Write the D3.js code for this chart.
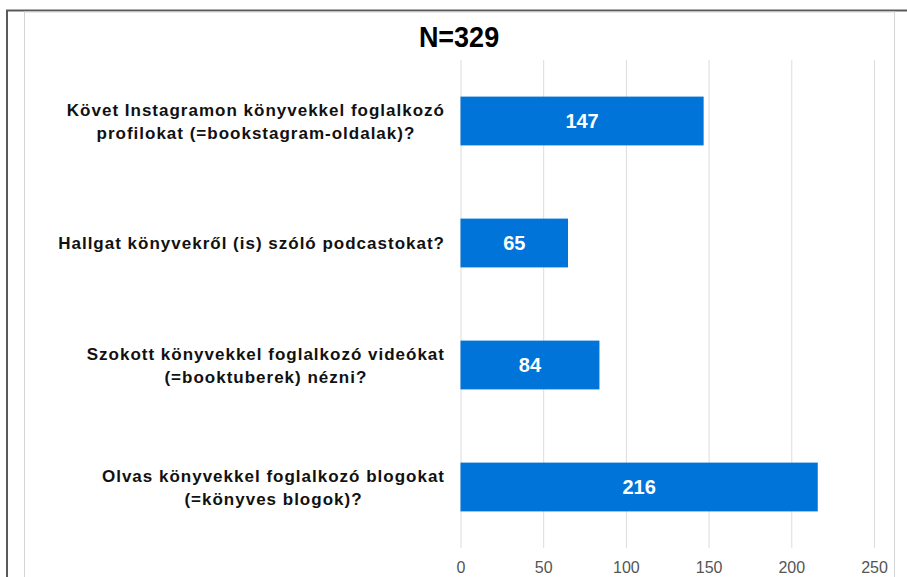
<!DOCTYPE html>
<html>
<head>
<meta charset="utf-8">
<script src="https://cdn.jsdelivr.net/npm/d3@7"></script>
<style>
  body { margin: 0; background: #fff; }
  svg { display: block; font-family: "Liberation Sans", Arial, sans-serif; }
</style>
</head>
<body>
<div id="chart"></div>
<script>
const title = "N=329"
const questions = [
    ["Követ Instagramon könyvekkel foglalkozó", "profilokat (=bookstagram-oldalak)?"],
    ["Hallgat könyvekről (is) szóló podcastokat?"],
    ["Szokott könyvekkel foglalkozó videókat", "(=booktuberek) nézni?"],
    ["Olvas könyvekkel foglalkozó blogokat", "(=könyves blogok)?"],
]
const counts = [147, 65, 84, 216]
const xTicks = [0, 50, 100, 150, 200, 250]

const width = 907, height = 577

const x = d3.scaleLinear().domain([0, 250]).range([460.5, 874])
const y = d3.scaleBand().domain(d3.range(questions.length)).range([60, 548]).paddingInner(0.6).paddingOuter(0.3)

const svg = d3.select('#chart').append('svg')
    .attr('width', width)
    .attr('height', height)

// frames
svg.append('rect')
    .attr('x', 7).attr('y', 10.5)
    .attr('width', width).attr('height', height)
    .attr('fill', 'none').attr('stroke', '#5a5a5a').attr('stroke-width', 2)
svg.append('rect')
    .attr('x', 24.5).attr('y', 12)
    .attr('width', 870).attr('height', height)
    .attr('fill', 'none').attr('stroke', '#d4d4d4').attr('stroke-width', 1)

// title (slightly condensed)
svg.append('text')
    .attr('transform', 'translate(459,47) scale(0.9,1)')
    .attr('text-anchor', 'middle')
    .attr('font-size', 30).attr('font-weight', 'bold')
    .attr('fill', '#000')
    .text(title)

// grid + axis
const axis = svg.append('g')
    .attr('transform', 'translate(0,60)')
    .call(d3.axisBottom(x).tickValues(xTicks).tickSize(488).tickFormat(d3.format('d')))
axis.select('.domain').remove()
axis.selectAll('.tick line').attr('stroke', '#dcdcdc').attr('stroke-width', 1)
axis.selectAll('.tick text')
    .attr('y', 513)
    .attr('dy', 0)
    .attr('font-size', 16)
    .attr('fill', '#555')
    .attr('font-family', '"Liberation Sans", Arial, sans-serif')

// bars
svg.append('g')
    .selectAll('rect')
    .data(counts)
    .join('rect')
    .attr('x', x(0))
    .attr('y', (d, i) => y(i))
    .attr('width', d => x(d) - x(0))
    .attr('height', y.bandwidth())
    .attr('fill', '#0074d9')

svg.append('g')
    .selectAll('text')
    .data(counts)
    .join('text')
    .attr('x', d => (x(0) + x(d)) / 2)
    .attr('y', (d, i) => y(i) + y.bandwidth() / 2)
    .attr('dy', '0.36em')
    .attr('text-anchor', 'middle')
    .attr('font-size', 20).attr('font-weight', 'bold')
    .attr('fill', '#fff')
    .text(d => d)

// category labels: lines centered to each other, block right-aligned
const labels = svg.append('g')
questions.forEach((lines, i) => {
    const cy = y(i) + y.bandwidth() / 2
    const lh = 23
    const t = labels.append('text')
        .attr('text-anchor', 'middle')
        .attr('font-size', 17).attr('font-weight', 'bold')
        .attr('letter-spacing', 1.0)
        .attr('fill', '#111')
    lines.forEach((s, j) => {
        t.append('tspan')
            .attr('y', cy + (j - (lines.length - 1) / 2) * lh)
            .attr('dy', '0.36em')
            .text(s)
    })
    let maxW = 0
    t.selectAll('tspan').each(function () { maxW = Math.max(maxW, this.getComputedTextLength()) })
    t.selectAll('tspan').attr('x', 445 - maxW / 2)
})
</script>
</body>
</html>
